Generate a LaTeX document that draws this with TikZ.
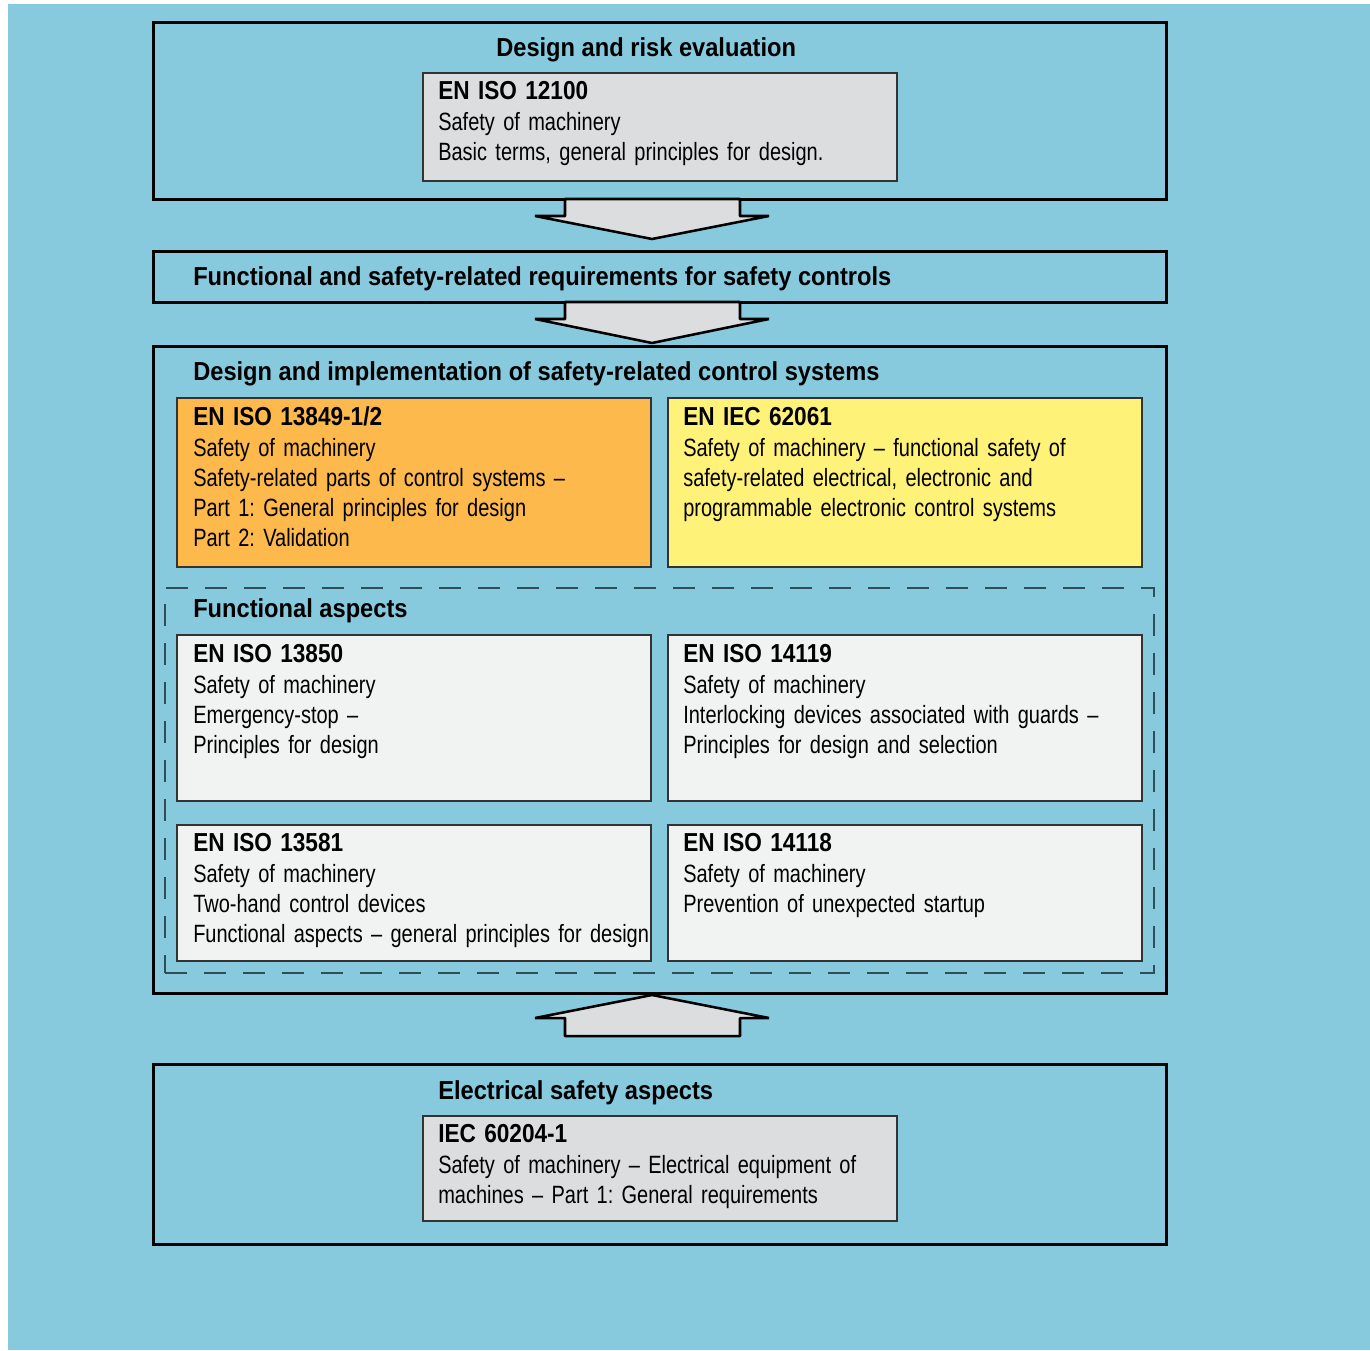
\documentclass[tikz,border=0pt]{standalone}
\usepackage{fontspec}
\setmainfont[FakeStretch=0.8, WordSpace=0.6]{Liberation Sans}
\newfontfamily\headfont[FakeStretch=0.91]{Liberation Sans}
\newfontfamily\namefont[FakeStretch=0.87]{Liberation Sans}
\usetikzlibrary{calc}

\definecolor{skyback}{HTML}{87CADE}
\definecolor{stdgray}{HTML}{DCDDDF}
\definecolor{stdlight}{HTML}{F1F2F2}
\definecolor{stdorange}{HTML}{FDB94C}
\definecolor{stdyellow}{HTML}{FFF278}
\definecolor{dashline}{HTML}{2F4E5A}

\newcommand{\stdname}[1]{{\namefont\bfseries\fontsize{19.5}{22.5}\selectfont #1}\\[0.75pt]}

\tikzset{
  boxsize/.style 2 args={minimum width=#1*0.75pt, minimum height=#2*0.75pt}
}
\frenchspacing

\begin{document}
\begin{tikzpicture}[
  x=0.75pt, y=-0.75pt,
  frame/.style={draw=black, line width=2.25pt, anchor=north west, inner sep=0pt, outer sep=0pt},
  stdbox/.style={draw=black!80, line width=1.1pt, anchor=north west, inner sep=0pt, outer sep=0pt},
  groupbox/.style={draw=dashline, line width=1.3pt, dash pattern=on 16.5pt off 12.75pt, anchor=north west, inner sep=0pt, outer sep=0pt},
  heading/.style={anchor=base west, inner sep=0pt, font=\headfont\bfseries\fontsize{19.5}{22.5}\selectfont},
  boxtext/.style={anchor=base west, inner sep=0pt, text width=370pt, align=left, font=\fontsize{18.75}{22.5}\selectfont},
  blockarrow/.style={draw=black, fill=stdgray, line width=1.9pt, line join=bevel}
]
\useasboundingbox (0,0) rectangle (1370,1350);
\fill[white] (0,0) rectangle (1370,1350);
\fill[skyback] (8,4) rectangle (1370,1350);

% design and risk evaluation
\node[frame, boxsize={1013}{177}] (risk) at (153,22) {};
\node[heading] (risk-t) at ([shift={(343,34.5)}]risk.north west) {Design and risk evaluation};
\node[stdbox, fill=stdgray, boxsize={474}{108}] (iso12100) at (423,73) {};
\node[boxtext] (iso12100-t) at ([shift={(15,26)}]iso12100.north west)
  {\stdname{EN ISO 12100}Safety of machinery\\Basic terms, general principles for design.};

% requirements
\node[frame, boxsize={1013}{51}] (req) at (153,251) {};
\node[heading] (req-t) at ([shift={(40,34)}]req.north west)
  {Functional and safety-related requirements for safety controls};

% design and implementation
\node[frame, boxsize={1013}{647}] (impl) at (153,346) {};
\node[heading] (impl-t) at ([shift={(40,34)}]impl.north west)
  {Design and implementation of safety-related control systems};
\node[stdbox, fill=stdorange, boxsize={474}{169}] (iso13849) at (177,398) {};
\node[boxtext] (iso13849-t) at ([shift={(16,27)}]iso13849.north west)
  {\stdname{EN ISO 13849-1/2}Safety of machinery\\Safety-related parts of control systems --\\Part 1: General principles for design\\Part 2: Validation};
\node[stdbox, fill=stdyellow, boxsize={474}{169}] (iec62061) at (668,398) {};
\node[boxtext] (iec62061-t) at ([shift={(15,27)}]iec62061.north west)
  {\stdname{EN IEC 62061}Safety of machinery -- functional safety of\\safety-related electrical, electronic and\\programmable electronic control systems};

% functional aspects
\node[groupbox, boxsize={989}{385}] (func) at (165,588) {};
\node[heading] (func-t) at ([shift={(28,29)}]func.north west) {Functional aspects};
\node[stdbox, fill=stdlight, boxsize={474}{166}] (iso13850) at (177,635) {};
\node[boxtext] (iso13850-t) at ([shift={(16,27)}]iso13850.north west)
  {\stdname{EN ISO 13850}Safety of machinery\\Emergency-stop --\\Principles for design};
\node[stdbox, fill=stdlight, boxsize={474}{166}] (iso14119) at (668,635) {};
\node[boxtext] (iso14119-t) at ([shift={(15,27)}]iso14119.north west)
  {\stdname{EN ISO 14119}Safety of machinery\\Interlocking devices associated with guards --\\Principles for design and selection};
\node[stdbox, fill=stdlight, boxsize={474}{136}] (iso13581) at (177,825) {};
\node[boxtext] (iso13581-t) at ([shift={(16,26)}]iso13581.north west)
  {\stdname{EN ISO 13581}Safety of machinery\\Two-hand control devices\\Functional aspects -- general principles for design};
\node[stdbox, fill=stdlight, boxsize={474}{136}] (iso14118) at (668,825) {};
\node[boxtext] (iso14118-t) at ([shift={(15,26)}]iso14118.north west)
  {\stdname{EN ISO 14118}Safety of machinery\\Prevention of unexpected startup};

% electrical safety
\node[frame, boxsize={1013}{180}] (elec) at (153,1064) {};
\node[heading] (elec-t) at ([shift={(285,35)}]elec.north west) {Electrical safety aspects};
\node[stdbox, fill=stdgray, boxsize={474}{105}] (iec60204) at (423,1116) {};
\node[boxtext] (iec60204-t) at ([shift={(15,26)}]iec60204.north west)
  {\stdname{IEC 60204-1}Safety of machinery -- Electrical equipment of\\machines -- Part 1: General requirements};

% block arrows
\draw[blockarrow] ($(risk.south west)+(412,0)$) -- ++(0,17) -- ++(-30,0) -- ++(117,23)
  -- ++(117,-23) -- ++(-29,0) -- ++(0,-17) -- cycle;
\draw[blockarrow] ($(req.south west)+(412,0)$) -- ++(0,17) -- ++(-30,0) -- ++(117,24)
  -- ++(117,-24) -- ++(-29,0) -- ++(0,-17) -- cycle;
\draw[blockarrow] ($(impl.south west)+(499,2)$) -- ++(117,23) -- ++(-29,0) -- ++(0,18)
  -- ++(-175,0) -- ++(0,-18) -- ++(-30,0) -- cycle;
\end{tikzpicture}
\end{document}
